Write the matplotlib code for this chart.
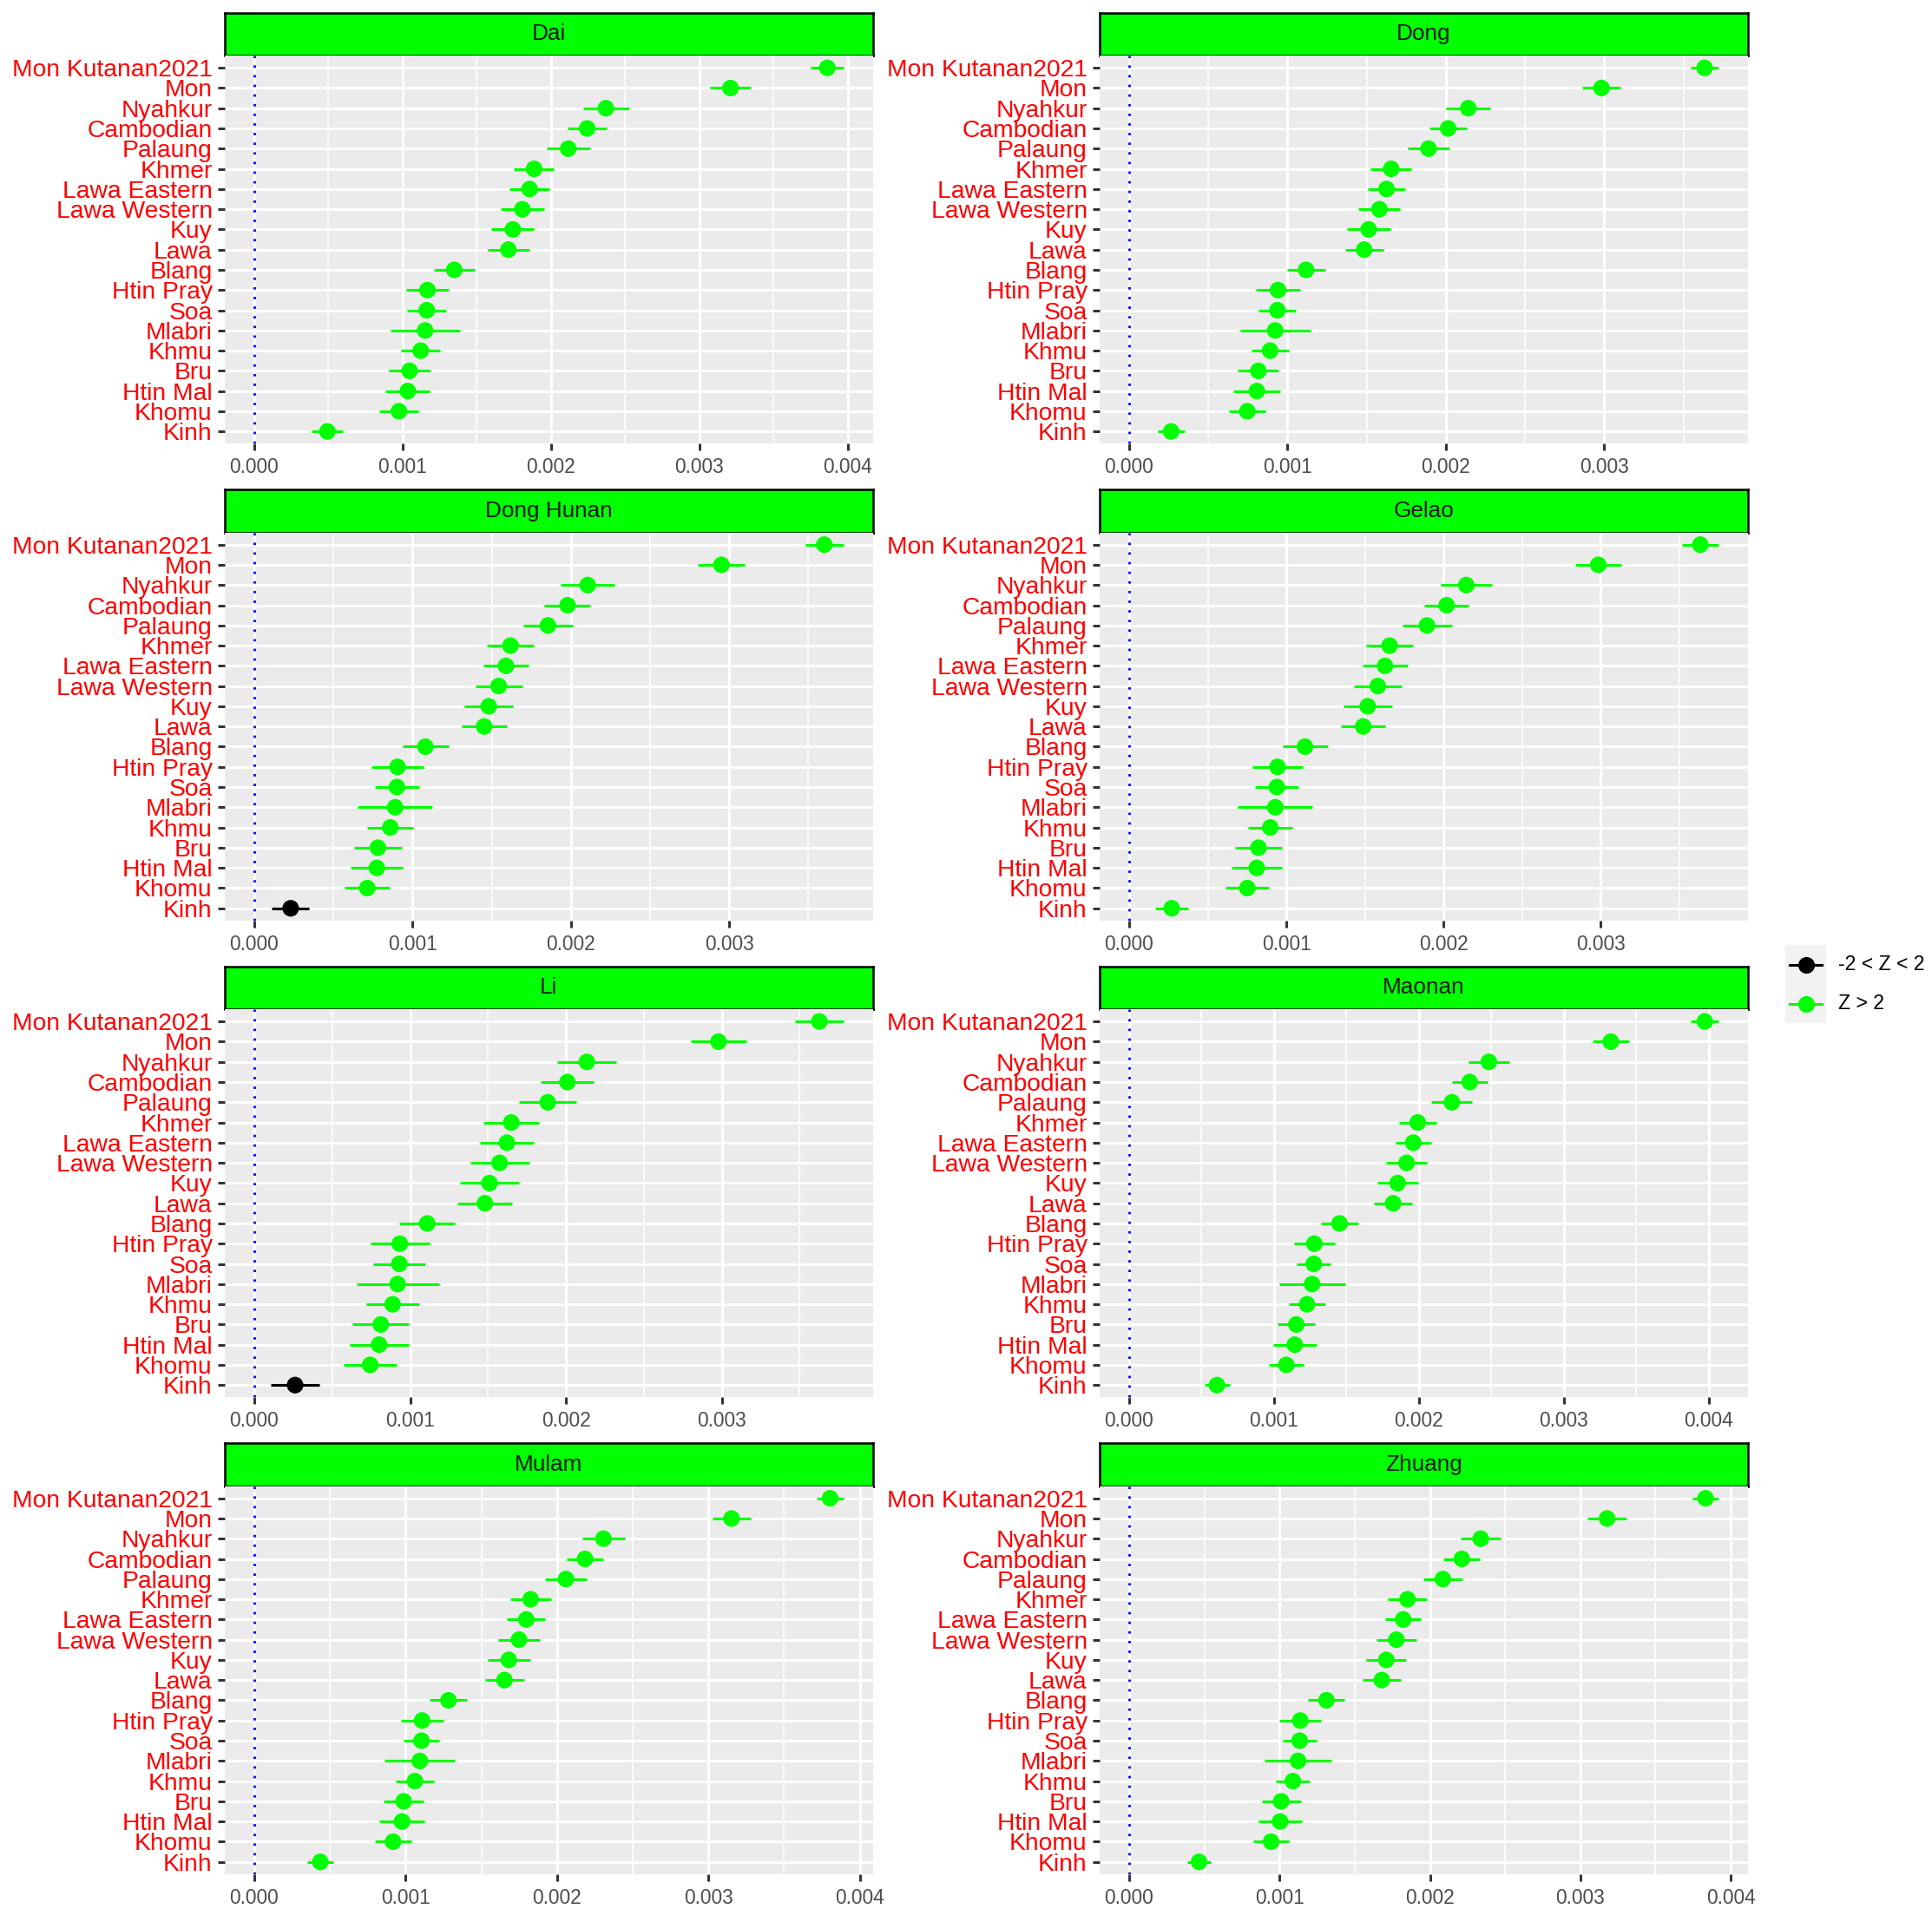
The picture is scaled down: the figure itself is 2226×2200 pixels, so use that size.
import matplotlib.pyplot as plt

plt.rcParams['font.family'] = ['Liberation Sans', 'DejaVu Sans']

pops = ["Mon Kutanan2021", "Mon", "Nyahkur", "Cambodian", "Palaung", "Khmer",
        "Lawa Eastern", "Lawa Western", "Kuy", "Lawa", "Blang", "Htin Pray",
        "Soa", "Mlabri", "Khmu", "Bru", "Htin Mal", "Khomu", "Kinh"]

panels = ["Dai", "Dong", "Dong Hunan", "Gelao", "Li", "Maonan", "Mulam", "Zhuang"]

# estimates and std errors (x 1e-3), same order as pops
dai_est = [3.863, 3.210, 2.370, 2.244, 2.116, 1.886, 1.856, 1.807, 1.743, 1.713,
           1.348, 1.167, 1.163, 1.152, 1.122, 1.047, 1.035, 0.975, 0.493]
dai_err = [0.110, 0.137, 0.155, 0.130, 0.147, 0.135, 0.135, 0.147, 0.143, 0.141,
           0.137, 0.143, 0.132, 0.232, 0.132, 0.139, 0.149, 0.130, 0.105]

dong_est = [3.633, 2.982, 2.141, 2.014, 1.890, 1.654, 1.625, 1.580, 1.512, 1.484,
            1.117, 0.940, 0.936, 0.922, 0.890, 0.816, 0.806, 0.746, 0.265]
dong_err = [0.088, 0.122, 0.141, 0.120, 0.133, 0.129, 0.120, 0.131, 0.136, 0.122,
            0.120, 0.140, 0.117, 0.221, 0.118, 0.129, 0.147, 0.117, 0.085]

donghunan_est = [3.601, 2.951, 2.106, 1.979, 1.855, 1.618, 1.590, 1.544, 1.481, 1.452,
                 1.081, 0.905, 0.901, 0.890, 0.859, 0.781, 0.774, 0.714, 0.230]
donghunan_err = [0.122, 0.148, 0.168, 0.145, 0.155, 0.150, 0.141, 0.148, 0.155, 0.143,
                 0.145, 0.164, 0.141, 0.235, 0.145, 0.150, 0.164, 0.141, 0.118]

gelao_est = [3.634, 2.985, 2.145, 2.020, 1.895, 1.657, 1.628, 1.582, 1.518, 1.489,
             1.119, 0.944, 0.940, 0.930, 0.898, 0.823, 0.812, 0.752, 0.271]
gelao_err = [0.116, 0.146, 0.162, 0.141, 0.157, 0.150, 0.144, 0.151, 0.153, 0.142,
             0.144, 0.158, 0.139, 0.237, 0.141, 0.151, 0.162, 0.139, 0.107]

li_est = [3.626, 2.979, 2.134, 2.009, 1.883, 1.649, 1.621, 1.574, 1.509, 1.480,
          1.110, 0.934, 0.931, 0.920, 0.888, 0.812, 0.801, 0.744, 0.262]
li_err = [0.156, 0.178, 0.190, 0.169, 0.183, 0.180, 0.171, 0.189, 0.189, 0.176,
          0.178, 0.189, 0.169, 0.264, 0.171, 0.180, 0.190, 0.171, 0.155]

maonan_est = [3.973, 3.324, 2.483, 2.351, 2.228, 1.992, 1.961, 1.915, 1.853, 1.822,
              1.452, 1.278, 1.274, 1.263, 1.228, 1.154, 1.143, 1.085, 0.606]
maonan_err = [0.095, 0.125, 0.143, 0.122, 0.141, 0.131, 0.124, 0.139, 0.141, 0.130,
              0.127, 0.141, 0.118, 0.226, 0.124, 0.131, 0.151, 0.120, 0.087]

mulam_est = [3.804, 3.153, 2.307, 2.185, 2.059, 1.826, 1.797, 1.749, 1.682, 1.653,
             1.283, 1.109, 1.105, 1.094, 1.061, 0.987, 0.976, 0.917, 0.436]
mulam_err = [0.090, 0.126, 0.140, 0.120, 0.137, 0.133, 0.126, 0.135, 0.140, 0.129,
             0.124, 0.142, 0.118, 0.231, 0.126, 0.133, 0.148, 0.122, 0.087]

zhuang_est = [3.833, 3.178, 2.338, 2.212, 2.086, 1.851, 1.822, 1.777, 1.710, 1.680,
              1.312, 1.138, 1.134, 1.123, 1.089, 1.011, 1.004, 0.944, 0.465]
zhuang_err = [0.086, 0.130, 0.134, 0.121, 0.132, 0.130, 0.119, 0.134, 0.132, 0.126,
              0.121, 0.139, 0.115, 0.223, 0.113, 0.130, 0.145, 0.119, 0.080]

estimates = [dai_est, dong_est, donghunan_est, gelao_est,
             li_est, maonan_est, mulam_est, zhuang_est]
errors = [dai_err, dong_err, donghunan_err, gelao_err,
          li_err, maonan_err, mulam_err, zhuang_err]

# populations with -2 < Z < 2 in each panel (all others Z > 2)
nonsig = {"Dong Hunan": ["Kinh"], "Li": ["Kinh"]}

W, H = 2226, 2200
fig = plt.figure(figsize=(W / 200, H / 200), dpi=200)


def px_axes(x, y, w, h):
    return fig.add_axes([x / W, 1 - (y + h) / H, w / W, h / H])


col_x = [259, 1267]
row_y = [14.7, 564.2, 1113.7, 1663.2]
panel_w = 747
strip_h = 49.5
panel_h = 447

for k, name in enumerate(panels):
    r, c = divmod(k, 2)
    x0 = col_x[c]
    y0 = row_y[r]

    # strip
    sax = px_axes(x0, y0, panel_w, strip_h)
    sax.set_facecolor("#00FF00")
    sax.set_xticks([])
    sax.set_yticks([])
    for sp in sax.spines.values():
        sp.set_color("black")
        sp.set_linewidth(0.9)
    sax.text(0.5, 0.5, name, ha="center", va="center", fontsize=9.4,
             color="#1A1A1A", transform=sax.transAxes)

    ax = px_axes(x0, y0 + strip_h, panel_w, panel_h)
    est = [v * 1e-3 for v in estimates[k]]
    err = [v * 1e-3 for v in errors[k]]
    ys = list(range(len(pops) - 1, -1, -1))
    cols = ["black" if p in nonsig.get(name, []) else "#00FF00" for p in pops]

    ax.set_facecolor("#EBEBEB")
    ax.set_axisbelow(True)
    ax.axvline(0, color="#0000FF", ls=(0, (1, 3)), lw=1.0, zorder=2)
    for yi, xi, ei, cc in zip(ys, est, err, cols):
        ax.hlines(yi, xi - ei, xi + ei, color=cc, lw=1.1, zorder=3)
    ax.scatter(est, ys, s=6.9 ** 2, c=cols, linewidths=0, zorder=4)

    lo = min(0, min(e - s for e, s in zip(est, err)))
    hi = max(0, max(e + s for e, s in zip(est, err)))
    pad = 0.05 * (hi - lo)
    ax.set_xlim(lo - pad, hi + pad)
    ax.set_ylim(-0.6, len(pops) - 0.4)

    majors = [i * 0.001 for i in range(-1, 6) if lo - pad <= i * 0.001 <= hi + pad]
    minors = [i * 0.001 + 0.0005 for i in range(-1, 6)
              if lo - pad <= i * 0.001 + 0.0005 <= hi + pad]
    ax.set_xticks(majors)
    ax.set_xticklabels(["%.3f" % m for m in majors])
    ax.set_xticks(minors, minor=True)
    ax.set_yticks(ys)
    ax.set_yticklabels(pops)

    ax.grid(which="major", color="white", lw=1.07)
    ax.grid(which="minor", axis="x", color="white", lw=0.55)
    ax.tick_params(which="major", length=2.75, width=1.07, color="#333333", pad=2.4)
    ax.tick_params(which="minor", length=0)
    ax.tick_params(axis="x", labelsize=8.2, labelcolor="#4D4D4D", pad=3.0)
    ax.tick_params(axis="y", labelsize=10.2, labelcolor="red")
    for sp in ax.spines.values():
        sp.set_visible(False)

# legend
lax = px_axes(2057, 1089, 47, 90)
lax.set_facecolor("#F2F2F2")
lax.set_xlim(0, 1)
lax.set_ylim(0, 2)
lax.set_xticks([])
lax.set_yticks([])
for sp in lax.spines.values():
    sp.set_visible(False)
legend_labels = ["-2 < Z < 2", "Z > 2"]
legend_colors = ["black", "#00FF00"]
for i, (lab, cc) in enumerate(zip(legend_labels, legend_colors)):
    yk = 1.5 - i
    lax.plot([0.1, 0.9], [yk, yk], color=cc, lw=1.1)
    lax.plot([0.5], [yk], marker="o", ms=6.9, mec="none", color=cc)
    fig.text(2118 / W, 1 - (1089 + 22.5 + 45 * i) / H, lab, fontsize=8.3,
             va="center", ha="left", color="black")

fig.savefig("out.png", dpi=200, facecolor="white")
